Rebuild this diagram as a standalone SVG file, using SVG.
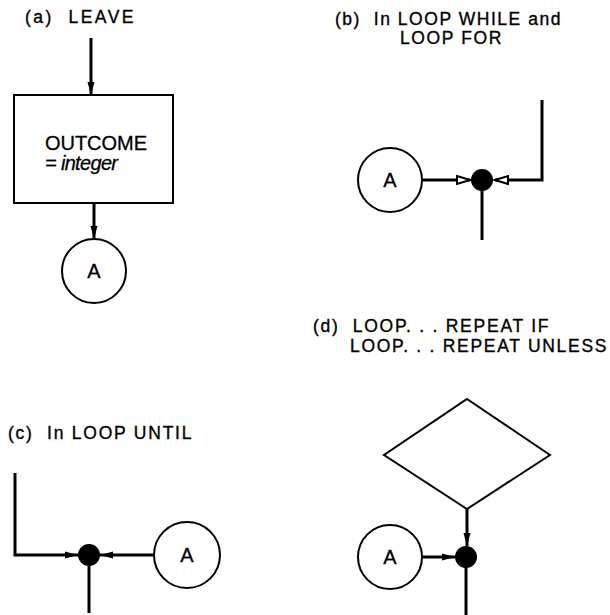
<svg xmlns="http://www.w3.org/2000/svg" width="610" height="615" viewBox="0 0 610 615">
<style>
  .t { font-family: "Liberation Sans", Arial, sans-serif; font-size: 17.5px; fill: #000; stroke: #000; stroke-width: 0.35px; letter-spacing: 1.5px; }
  .lbl { font-family: "Liberation Sans", Arial, sans-serif; font-size: 20px; fill: #000; stroke: #000; stroke-width: 0.3px; }
  .node { fill: #fff; stroke: #000; stroke-width: 2; }
  .dot { fill: #000; stroke: none; }
  .c { fill: none; stroke: #000; stroke-width: 3; stroke-linejoin: miter; }
  .fa { marker-end: url(#arrow); }
  .ha { marker-end: url(#harrow); }
</style>
<defs>
  <marker id="arrow" markerUnits="userSpaceOnUse" markerWidth="14" markerHeight="10" refX="13" refY="5" orient="auto">
    <path d="M0,1.5 L13,5 L0,8.5 z" fill="#000"/>
  </marker>
  <marker id="harrow" markerUnits="userSpaceOnUse" markerWidth="16" markerHeight="12" refX="14" refY="6" orient="auto">
    <path d="M1,2 L14,6 L1,10 z" fill="#fff" stroke="#000" stroke-width="2"/>
  </marker>
</defs>

<g id="titles">
  <text class="t" x="25" y="23" textLength="110" xml:space="preserve">(a)  LEAVE</text>
  <text class="t" x="335" y="25" textLength="227" xml:space="preserve">(b)  In LOOP WHILE and</text>
  <text class="t" x="400" y="44" textLength="103">LOOP FOR</text>
  <text class="t" x="8" y="439" textLength="185" xml:space="preserve">(c)  In LOOP UNTIL</text>
  <text class="t" x="313" y="332" textLength="237" xml:space="preserve">(d)  LOOP. . . REPEAT IF</text>
  <text class="t" x="350" y="352" textLength="258">LOOP. . . REPEAT UNLESS</text>
</g>

<g id="connectors">
  <!-- (a) -->
  <path class="c fa" d="M91,38 L91,95"/>
  <path class="c fa" d="M94,203 L94,239"/>
  <!-- (b) -->
  <path class="c ha" d="M422,180 L470,180"/>
  <path class="c ha" d="M542,100 L542,180 L495,180"/>
  <path class="c" d="M482,190 L482,240"/>
  <!-- (c) -->
  <path class="c fa" d="M15,473 L15,555 L78,555"/>
  <path class="c fa" d="M154,555 L100,555"/>
  <path class="c" d="M89,565 L89,613"/>
  <!-- (d) -->
  <path class="c fa" d="M467,509 L467,546"/>
  <path class="c fa" d="M422,557 L455,557"/>
  <path class="c" d="M466,566 L466,615"/>
</g>

<g id="a-box">
  <rect class="node" x="14" y="95" width="159" height="108"/>
  <text class="lbl" x="45" y="150" font-size="19" textLength="102">OUTCOME</text>
  <text class="lbl" x="45" y="170" font-size="16" font-style="italic" textLength="73" xml:space="preserve">= integer</text>
</g>
<g id="a-circle">
  <circle class="node" cx="94" cy="271" r="32"/>
  <text class="lbl" x="94" y="278" text-anchor="middle">A</text>
</g>

<g id="b-circle">
  <circle class="node" cx="390" cy="180" r="32"/>
  <text class="lbl" x="390" y="187" text-anchor="middle">A</text>
</g>
<g id="b-dot"><circle class="dot" cx="482" cy="180" r="11"/></g>

<g id="c-circle">
  <circle class="node" cx="187" cy="555" r="33"/>
  <text class="lbl" x="187" y="562" text-anchor="middle">A</text>
</g>
<g id="c-dot"><circle class="dot" cx="89" cy="555" r="11"/></g>

<g id="d-diamond">
  <polygon class="node" points="467,399 550,455 467,509 384,455" stroke-width="2.5"/>
</g>
<g id="d-circle">
  <circle class="node" cx="390" cy="557" r="32"/>
  <text class="lbl" x="390" y="564" text-anchor="middle">A</text>
</g>
<g id="d-dot"><circle class="dot" cx="466" cy="557" r="11"/></g>
</svg>
